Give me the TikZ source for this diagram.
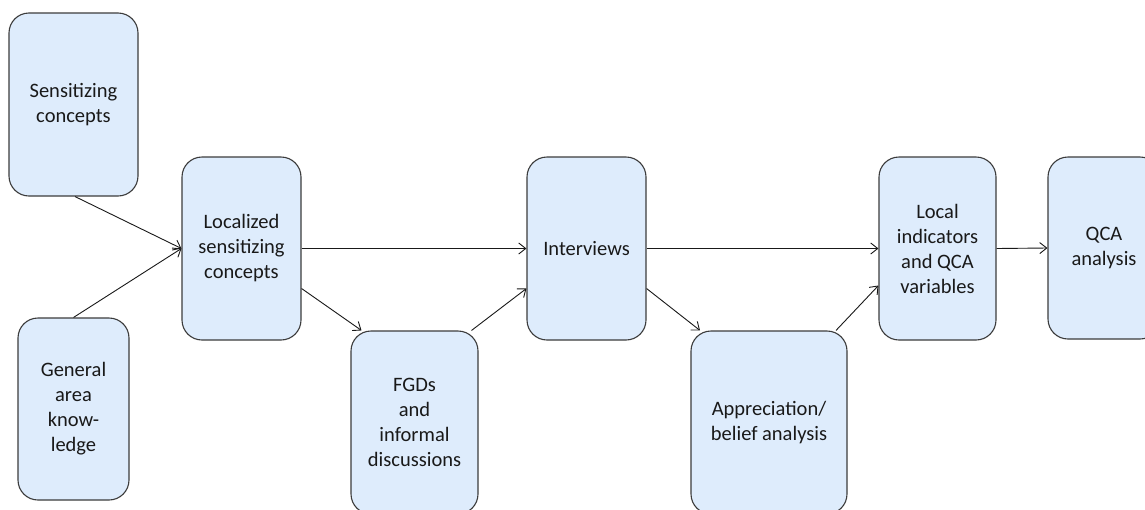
\documentclass[tikz,border=0pt]{standalone}
\usepackage{fontspec}
\setmainfont{Carlito}
\usetikzlibrary{arrows.meta}
\definecolor{boxfill}{RGB}{222,236,252}
\definecolor{boxline}{RGB}{60,60,60}
\tikzset{
  flowbox/.style={draw=boxline, fill=boxfill, line width=1.1pt, rounded corners=20pt,
    align=center, inner sep=0pt, font=\fontsize{20.5}{25}\selectfont, text=black!90},
  flowarrow/.style={draw=black!90, line width=0.9pt, -{Straight Barb[length=7pt,width=11pt]}}
}
\begin{document}
\begin{tikzpicture}[x=1pt,y=-1pt]
\useasboundingbox (0,0) rectangle (1145,509);
\clip (0,0) rectangle (1145,509);
\fill[white] (0,0) rectangle (1145,509);
\node[flowbox, minimum width=129pt, minimum height=183pt] (sens) at (73.5,104.5) {Sensitizing\\concepts};
\node[flowbox, minimum width=111pt, minimum height=182pt] (gen) at (73.5,409) {General\\area\\know-\\ledge};
\node[flowbox, minimum width=119pt, minimum height=183pt] (loc) at (241.5,248.5) {Localized\\sensitizing\\concepts};
\node[flowbox, minimum width=127pt, minimum height=183pt] (fgd) at (414.5,422.5) {FGDs\\and\\informal\\discussions};
\node[flowbox, minimum width=119pt, minimum height=183pt] (int) at (586.5,248.5) {Interviews};
\node[flowbox, minimum width=156pt, minimum height=183pt] (app) at (769,422.5) {Appreciation/\\belief analysis};
\node[flowbox, minimum width=117pt, minimum height=183pt] (ind) at (937.5,248.5) {Local\\indicators\\and QCA\\variables};
\node[flowbox, minimum width=112pt, minimum height=182pt] (qca) at (1104,248) {QCA\\analysis};
\draw[flowarrow] ([xshift=1.5pt]sens.south) -- (loc.west);
\draw[flowarrow] (gen.north) -- (loc.west);
\draw[flowarrow] (loc.east) -- (int.west);
\draw[flowarrow] ([yshift=-40pt]loc.east) -- ([xshift=-53pt]fgd.north);
\draw[flowarrow] ([xshift=57pt]fgd.north) -- ([yshift=-40pt]int.west);
\draw[flowarrow] (int.east) -- (ind.west);
\draw[flowarrow] ([yshift=-40pt]int.east) -- ([xshift=-69pt]app.north);
\draw[flowarrow] ([xshift=67pt]app.north) -- ([yshift=-37pt]ind.west);
\draw[flowarrow] (ind.east) -- (qca.west);
\end{tikzpicture}
\end{document}
